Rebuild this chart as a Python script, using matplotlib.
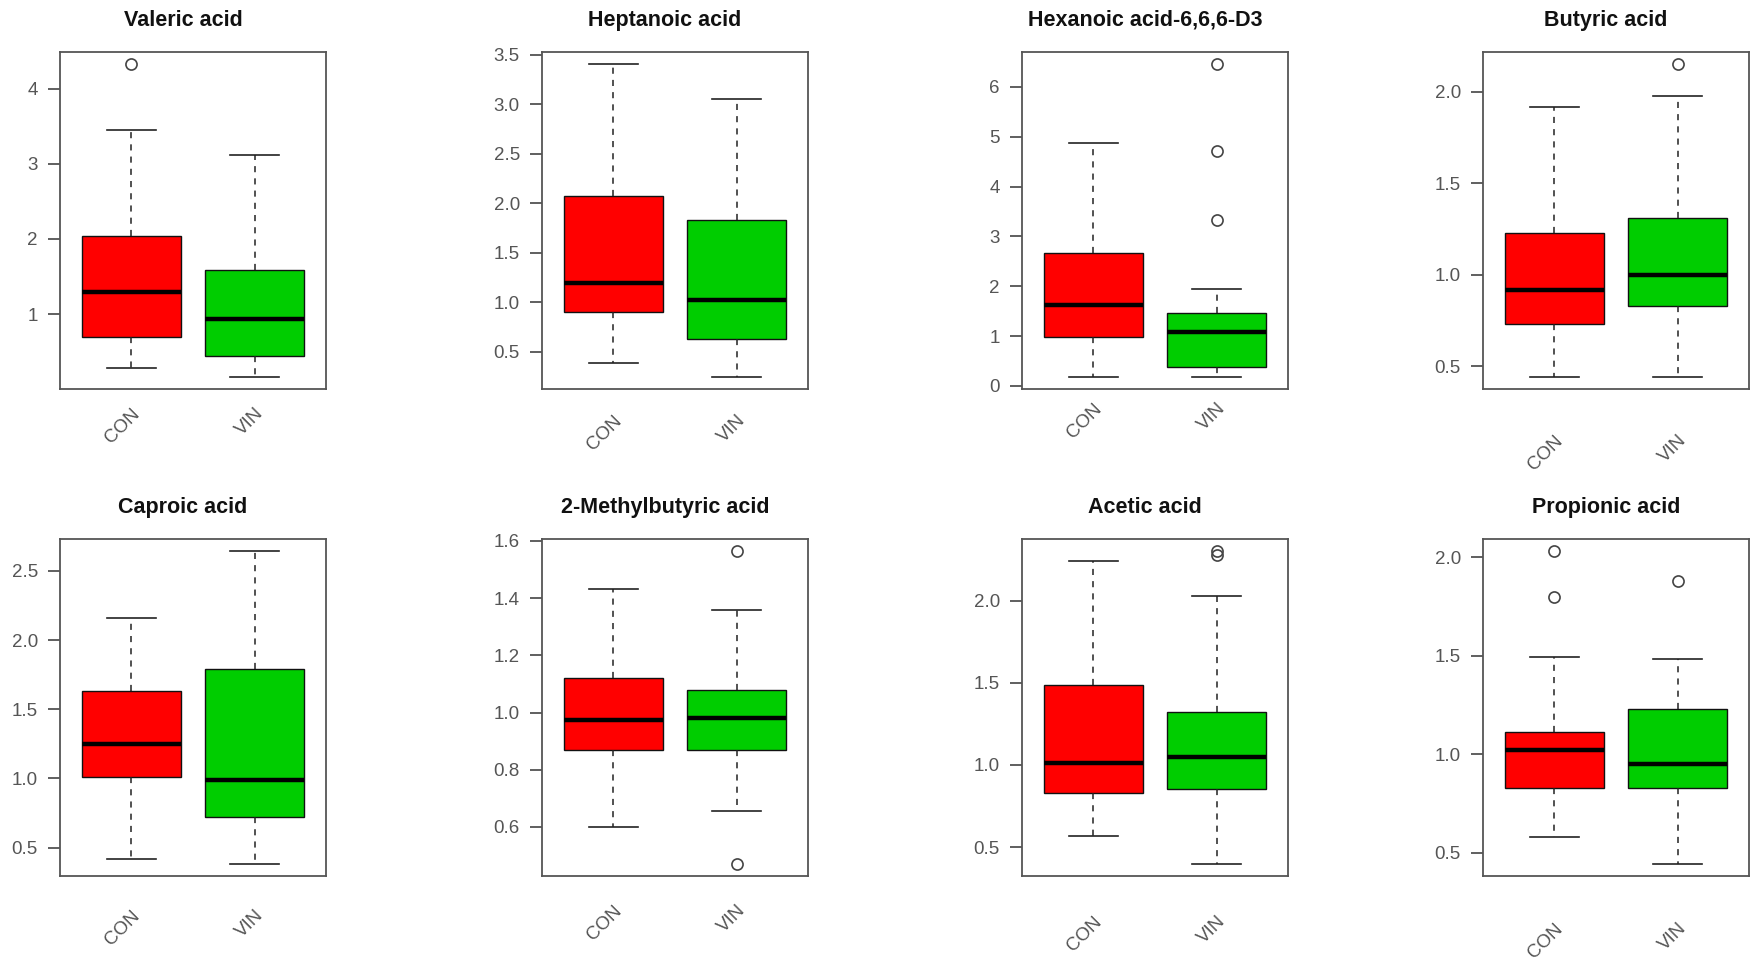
"""
Boxplots of short chain fatty acids, CON vs VIN.
"""

import matplotlib
matplotlib.use("Agg")
import matplotlib.pyplot as plt
from matplotlib.ticker import MultipleLocator, FormatStrFormatter

plt.rcParams['font.family'] = ['Liberation Sans', 'DejaVu Sans']

# Data
groups = ['CON', 'VIN']
acids = ['Valeric acid', 'Heptanoic acid', 'Hexanoic acid-6,6,6-D3', 'Butyric acid',
         'Caproic acid', '2-Methylbutyric acid', 'Acetic acid', 'Propionic acid']

# whisker low, Q1, median, Q3, whisker high
con_box = [
    [0.28, 0.70, 1.29, 2.04, 3.45],
    [0.39, 0.90, 1.19, 2.07, 3.40],
    [0.19, 0.99, 1.63, 2.66, 4.88],
    [0.445, 0.73, 0.92, 1.23, 1.92],
    [0.42, 1.01, 1.25, 1.63, 2.16],
    [0.60, 0.870, 0.975, 1.122, 1.432],
    [0.57, 0.83, 1.01, 1.49, 2.24],
    [0.58, 0.83, 1.02, 1.11, 1.494],
]
vin_box = [
    [0.17, 0.44, 0.93, 1.59, 3.12],
    [0.25, 0.63, 1.02, 1.83, 3.05],
    [0.19, 0.38, 1.09, 1.46, 1.94],
    [0.445, 0.83, 1.00, 1.31, 1.98],
    [0.385, 0.72, 0.99, 1.79, 2.64],
    [0.655, 0.870, 0.981, 1.078, 1.36],
    [0.40, 0.856, 1.05, 1.325, 2.03],
    [0.444, 0.83, 0.95, 1.23, 1.485],
]
con_out = [[4.32], [], [], [], [], [], [], [2.03, 1.80]]
vin_out = [[], [], [6.45, 4.72, 3.32], [2.15], [], [1.563, 0.472], [2.30, 2.28], [1.88]]

colors = ['#FF0000', '#00CD00']

# Layout (pixels at 100 dpi) and per-panel axis styling
W, H = 1754, 960
lefts = [60, 542, 1022, 1483]
tops = [52, 539]
ax_w, ax_h = 266, 337
tick_step = [1, 0.5, 1, 0.5, 0.5, 0.2, 0.5, 0.5]
tick_fmt = ['%d', '%.1f', '%d', '%.1f', '%.1f', '%.1f', '%.1f', '%.1f']
label_gap = [16, 23, 11, 43, 31, 26, 37, 44]

fig = plt.figure(figsize=(W / 100, H / 100), dpi=100)

for i, name in enumerate(acids):
    row, col = divmod(i, 4)
    ax = fig.add_axes([lefts[col] / W, 1 - (tops[row] + ax_h) / H, ax_w / W, ax_h / H])

    stats = []
    for box, out in ((con_box[i], con_out[i]), (vin_box[i], vin_out[i])):
        lo, q1, med, q3, hi = box
        stats.append(dict(whislo=lo, q1=q1, med=med, q3=q3, whishi=hi, fliers=out))

    bp = ax.bxp(stats, positions=[1, 2], widths=0.8, patch_artist=True,
                boxprops=dict(edgecolor='#111111', linewidth=1.0),
                medianprops=dict(color='black', linewidth=3.2, solid_capstyle='butt'),
                whiskerprops=dict(color='#222222', linewidth=1.1, linestyle=(0, (4, 4))),
                capprops=dict(color='#222222', linewidth=1.2),
                capwidths=0.4,
                flierprops=dict(marker='o', markersize=8, markerfacecolor='none',
                                markeredgecolor='#444444', markeredgewidth=1.2))
    for patch, c in zip(bp['boxes'], colors):
        patch.set_facecolor(c)

    # R style axis range: 4% extension of the data range
    vals = con_box[i] + vin_box[i] + con_out[i] + vin_out[i]
    lo, hi = min(vals), max(vals)
    ext = 0.04 * (hi - lo)
    ax.set_ylim(lo - ext, hi + ext)
    ax.set_xlim(0.42, 2.58)

    ax.yaxis.set_major_locator(MultipleLocator(tick_step[i]))
    ax.yaxis.set_major_formatter(FormatStrFormatter(tick_fmt[i]))
    ax.tick_params(axis='y', length=9, width=1.2, color='#444444', pad=7,
                   labelsize=13.5, labelcolor='#555555')
    ax.tick_params(axis='x', length=0, pad=label_gap[i] * 0.72,
                   labelsize=13.5, labelcolor='#555555')
    ax.set_xticks([1, 2])
    ax.set_xticklabels(groups, rotation=45, ha='right', va='top', rotation_mode='anchor')

    for sp in ax.spines.values():
        sp.set_color('#555555')
        sp.set_linewidth(1.3)

    ax.set_title(name, fontsize=15.5, fontweight='bold', x=0.462, pad=19, color='#111111')

plt.savefig('out.png', dpi=100)
plt.close()
